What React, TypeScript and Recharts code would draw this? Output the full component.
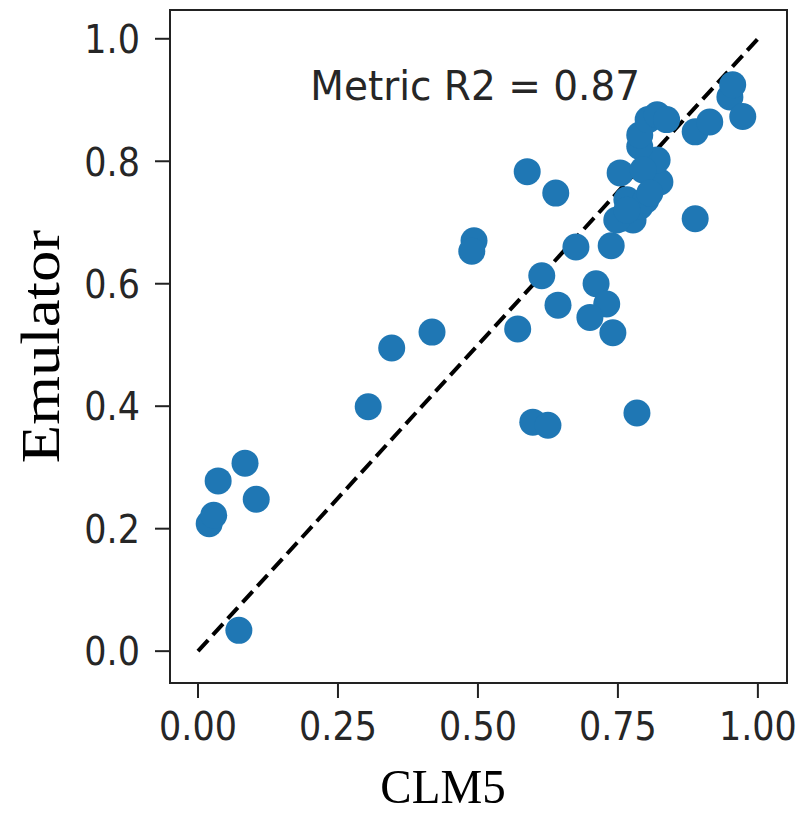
import React from 'react';
import {
  ScatterChart,
  Scatter,
  XAxis,
  YAxis,
  ReferenceLine,
  ReferenceArea,
  ReferenceDot,
  Label,
} from 'recharts';

const clm5 = [
  0.084, 0.036, 0.104, 0.02, 0.028, 0.073,
  0.418, 0.346, 0.304, 0.588, 0.639, 0.493, 0.489, 0.675, 0.738, 0.614,
  0.643, 0.571, 0.711, 0.73, 0.7, 0.741, 0.598, 0.625, 0.784, 0.888,
  0.757, 0.777, 0.789, 0.766, 0.8, 0.754, 0.825, 0.82, 0.789, 0.795,
  0.807, 0.789, 0.804, 0.82, 0.837, 0.888, 0.914, 0.95, 0.955, 0.973,
  0.748, 0.766,
];
const emulator = [
  0.307, 0.278, 0.248, 0.208, 0.222, 0.034,
  0.521, 0.495, 0.399, 0.783, 0.748, 0.67, 0.653, 0.66, 0.662, 0.613,
  0.565, 0.526, 0.6, 0.567, 0.545, 0.52, 0.374, 0.369, 0.389, 0.706,
  0.707, 0.704, 0.726, 0.737, 0.737, 0.781, 0.766, 0.802, 0.824, 0.786,
  0.748, 0.843, 0.868, 0.876, 0.868, 0.848, 0.864, 0.905, 0.925, 0.873,
  0.704, 0.72,
];
const xTicks = [0, 0.25, 0.5, 0.75, 1];
const yTicks = [0, 0.2, 0.4, 0.6, 0.8, 1];
const r2Text = 'Metric R2 = 0.87';
const xLabel = 'CLM5';
const yLabel = 'Emulator';

const points = clm5.map((x, i) => ({ x, y: emulator[i] }));

const S = 1.12;
const TICK_FONT = 35;
const SANS = '"DejaVu Sans", sans-serif';
const SERIF = '"Liberation Serif", "Times New Roman", serif';
const TEXT_COLOR = '#262626';

const XTick = (props: any) => {
  const { x, y, payload } = props;
  const capH = TICK_FONT * 0.729;
  const base = (13 + capH * S) / S;
  return (
    <g transform={`translate(${x},${y})`}>
      <text
        transform={`scale(1,${S})`}
        x={0}
        y={base}
        textAnchor="middle"
        fontFamily={SANS}
        fontSize={TICK_FONT}
        fill={TEXT_COLOR}
      >
        {Number(payload.value).toFixed(2)}
      </text>
    </g>
  );
};

const YTick = (props: any) => {
  const { x, y, payload } = props;
  const capH = TICK_FONT * 0.729;
  return (
    <g transform={`translate(${x},${y})`}>
      <text
        transform={`scale(1,${S})`}
        x={0}
        y={capH / 2}
        textAnchor="end"
        fontFamily={SANS}
        fontSize={TICK_FONT}
        fill={TEXT_COLOR}
      >
        {Number(payload.value).toFixed(1)}
      </text>
    </g>
  );
};

const Dot = (props: any) => (
  <circle cx={props.cx} cy={props.cy} r={13.5} fill="#1f77b4" />
);

export default function App() {
  return (
    <ScatterChart
      width={799}
      height={809}
      margin={{ top: 2, right: 20, bottom: 0, left: 0 }}
      style={{ background: '#fff' }}
    >
      <XAxis
        type="number"
        dataKey="x"
        domain={[-0.05, 1.052]}
        allowDataOverflow
        ticks={xTicks}
        height={134}
        axisLine={false}
        tickLine={{ stroke: '#222', strokeWidth: 2 }}
        tickSize={15}
        tickMargin={0}
        tick={<XTick />}
        interval={0}
      >
        <Label
          content={(p: any) => {
            const vb = p.viewBox;
            return (
              <g transform={`translate(${vb.x + 273},${vb.y + 104})`}>
                <text
                  transform={`scale(1,1.05)`}
                  x={0}
                  y={15}
                  textAnchor="middle"
                  fontFamily={SERIF}
                  fontSize={47}
                  fill="#000"
                >
                  {xLabel}
                </text>
              </g>
            );
          }}
        />
      </XAxis>
      <YAxis
        type="number"
        dataKey="y"
        domain={[-0.052, 1.047]}
        allowDataOverflow
        ticks={yTicks}
        width={162}
        axisLine={false}
        tickLine={{ stroke: '#222', strokeWidth: 2 }}
        tickSize={15}
        tickMargin={15}
        tick={<YTick />}
        interval={0}
      >
        <Label
          content={(p: any) => {
            const vb = p.viewBox;
            return (
              <g transform={`translate(${vb.x + 32},${vb.y + vb.height / 2}) rotate(-90)`}>
                <text
                  transform={`scale(${S},1)`}
                  x={0}
                  y={19}
                  textAnchor="middle"
                  fontFamily={SERIF}
                  fontSize={56}
                  fill="#000"
                >
                  {yLabel}
                </text>
              </g>
            );
          }}
        />
      </YAxis>
      <ReferenceArea
        x1={-0.05}
        x2={1.052}
        y1={-0.052}
        y2={1.047}
        fill="none"
        fillOpacity={0}
        stroke="#222"
        strokeWidth={2}
        ifOverflow="visible"
      />
      <Scatter data={points} shape={<Dot />} isAnimationActive={false} />
      <ReferenceLine
        segment={[
          { x: 0, y: 0 },
          { x: 1, y: 1 },
        ]}
        stroke="#000"
        strokeWidth={4}
        strokeDasharray="15 7"
      />
      <ReferenceDot
        x={0.495}
        y={0.923}
        r={0}
        fill="none"
        stroke="none"
        label={(p: any) => {
          const vb = p.viewBox;
          return (
            <g transform={`translate(${vb.x},${vb.y})`}>
              <text
                transform={`scale(1,1.06)`}
                x={0}
                y={13}
                textAnchor="middle"
                fontFamily={SANS}
                fontSize={39}
                fill={TEXT_COLOR}
              >
                {r2Text}
              </text>
            </g>
          );
        }}
      />
    </ScatterChart>
  );
}
